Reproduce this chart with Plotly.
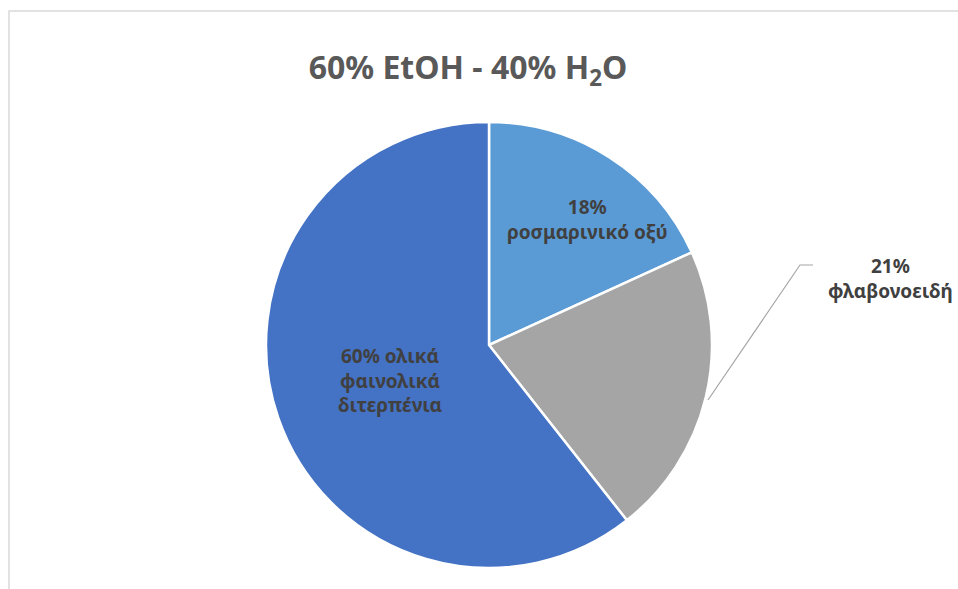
import plotly.graph_objects as go

# Composition of the 60% EtOH - 40% H2O extract
categories = ["ροσμαρινικό οξύ", "φλαβονοειδή", "ολικά<br>φαινολικά<br>διτερπένια"]
values = [18, 21, 60]
colors = ["#5B9BD5", "#A5A5A5", "#4472C4"]

W, H = 958, 589

def px(x):
    return x / W

def py(y):
    return 1 - y / H

# pie geometry in pixels
cx, cy, r = 489, 345, 223

fig = go.Figure(go.Pie(
    labels=[c.replace("<br>", " ") for c in categories],
    values=values,
    sort=False,
    direction="clockwise",
    rotation=0,
    marker=dict(colors=colors, line=dict(color="white", width=2.5)),
    textinfo="none",
    hoverinfo="label+value",
    showlegend=False,
    domain=dict(x=[px(cx - r), px(cx + r)], y=[py(cy + r), py(cy - r)]),
))

label_font = dict(family="Noto Sans", size=19, color="#404040")

# label positions (pixel centres)
label_pos = [(587, 220), (890, 279), (390, 380)]
texts = [
    f"<b>{values[0]}%<br>{categories[0]}</b>",
    f"<b>{values[1]}%<br>{categories[1]}</b>",
    f"<b>{values[2]}% {categories[2]}</b>",
]
annotations = []
for (x, y), t in zip(label_pos, texts):
    annotations.append(dict(
        x=px(x), y=py(y), xref="paper", yref="paper",
        text=t, showarrow=False, font=label_font,
        xanchor="center", yanchor="middle", align="center",
    ))

shapes = [
    # chart area border
    dict(type="rect", xref="paper", yref="paper",
         x0=px(9), x1=px(W + 5), y0=py(H + 5), y1=py(11),
         line=dict(color="#D9D9D9", width=1.5), fillcolor="rgba(0,0,0,0)"),
    # leader line for the outside label
    dict(type="path", xref="paper", yref="paper",
         path=f"M {px(708)} {py(400)} L {px(800)} {py(265)} L {px(813)} {py(265)}",
         line=dict(color="#A6A6A6", width=1.2)),
]

fig.update_layout(
    width=W, height=H,
    margin=dict(l=0, r=0, t=0, b=0),
    paper_bgcolor="white",
    plot_bgcolor="white",
    title=dict(
        text="<b>60% EtOH - 40% H<sub>2</sub>O</b>",
        x=px(468), xanchor="center",
        y=py(68), yanchor="middle",
        font=dict(family="Noto Sans", size=32, color="#595959"),
    ),
    annotations=annotations,
    shapes=shapes,
)

fig.write_html("out.html")
